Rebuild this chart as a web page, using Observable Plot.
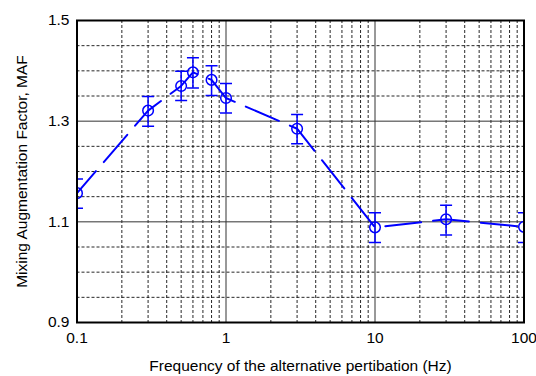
<!DOCTYPE html>
<html>
<head>
<meta charset="utf-8">
<script src="https://cdn.jsdelivr.net/npm/d3@7"></script>
<script src="https://cdn.jsdelivr.net/npm/@observablehq/plot@0.6"></script>
<style>
  html, body { margin: 0; padding: 0; background: #fff; }
</style>
</head>
<body>
<div id="chart"></div>
<script>
// Frequency of the alternative pertibation (Hz)
const freq = [0.1, 0.3, 0.5, 0.6, 0.8, 1, 3, 10, 30, 100];
// Mixing Augmentation Factor
const maf  = [1.157, 1.321, 1.370, 1.397, 1.382, 1.346, 1.285, 1.089, 1.105, 1.090];
// error bar ends
const mafLow  = [1.127, 1.290, 1.341, 1.366, 1.351, 1.316, 1.255, 1.059, 1.074, 1.059];
const mafHigh = [1.185, 1.349, 1.399, 1.426, 1.410, 1.375, 1.313, 1.118, 1.133, 1.118];

// axis ticks and labels
const xTicks = [0.1, 1, 10, 100];
const xTickLabels = ["0.1", "1", "10", "100"];
const yTicks = [0.9, 1.1, 1.3, 1.5];
const yTickLabels = ["0.9", "1.1", "1.3", "1.5"];

// grid lines
const xMajorGrid = [1, 10];
const xMinorGrid = [0.2, 0.3, 0.4, 0.5, 0.6, 0.7, 0.8, 0.9,
                    2, 3, 4, 5, 6, 7, 8, 9,
                    20, 30, 40, 50, 60, 70, 80, 90];
const yMajorGrid = [1.1, 1.3];
const yMinorGrid = [0.95, 1.0, 1.05, 1.15, 1.2, 1.25, 1.35, 1.4, 1.45];

const xLabel = "Frequency of the alternative pertibation (Hz)";
const yLabel = "Mixing Augmentation Factor, MAF";

const data = freq.map((f, i) => ({f, m: maf[i], lo: mafLow[i], hi: mafHigh[i]}));

const blue = "#0000ff";
const cap = {
  draw(ctx, size) {
    const r = Math.sqrt(size / Math.PI);
    ctx.moveTo(-r, 0);
    ctx.lineTo(r, 0);
  }
};

const chart = Plot.plot({
  width: 536,
  height: 376,
  marginLeft: 76.5,
  marginRight: 12.5,
  marginTop: 20,
  marginBottom: 54,
  style: {fontFamily: "'Liberation Sans', Arial, sans-serif", fontSize: "15.5px", color: "#000", background: "#fff"},
  x: {
    type: "log",
    domain: [0.1, 100],
    ticks: xTicks,
    tickFormat: d => xTickLabels[xTicks.indexOf(d)],
    tickSize: 0,
    tickPadding: 9,
    label: xLabel,
    labelAnchor: "center",
    labelOffset: 48,
    labelArrow: "none"
  },
  y: {
    domain: [0.9, 1.5],
    ticks: yTicks,
    tickFormat: d => yTickLabels[yTicks.findIndex(t => Math.abs(t - d) < 1e-9)],
    tickSize: 0,
    tickPadding: 7.5,
    label: yLabel,
    labelAnchor: "center",
    labelOffset: 61,
    labelArrow: "none"
  },
  marks: [
    Plot.ruleX(xMinorGrid, {stroke: "#000", strokeWidth: 1, strokeDasharray: "3,2", strokeOpacity: 0.85}),
    Plot.ruleY(yMinorGrid, {stroke: "#000", strokeWidth: 1, strokeDasharray: "3,2", strokeOpacity: 0.85}),
    Plot.ruleX(xMajorGrid, {stroke: "#333", strokeWidth: 1}),
    Plot.ruleY(yMajorGrid, {stroke: "#333", strokeWidth: 1}),
    Plot.line(data, {x: "f", y: "m", stroke: blue, strokeWidth: 2, strokeDasharray: "36,12", strokeDashoffset: 7, clip: true}),
    Plot.ruleX(data, {x: "f", y1: "lo", y2: "hi", stroke: blue, strokeWidth: 1.5, clip: true}),
    Plot.dot(data, {x: "f", y: "lo", symbol: cap, r: 6, fill: "none", stroke: blue, strokeWidth: 1.5, clip: true}),
    Plot.dot(data, {x: "f", y: "hi", symbol: cap, r: 6, fill: "none", stroke: blue, strokeWidth: 1.5, clip: true}),
    Plot.dot(data, {x: "f", y: "m", r: 5.3, fill: "none", stroke: blue, strokeWidth: 1.5, clip: true}),
    Plot.frame({stroke: "#000", strokeWidth: 2})
  ]
});

document.getElementById("chart").appendChild(chart);
</script>
</body>
</html>
